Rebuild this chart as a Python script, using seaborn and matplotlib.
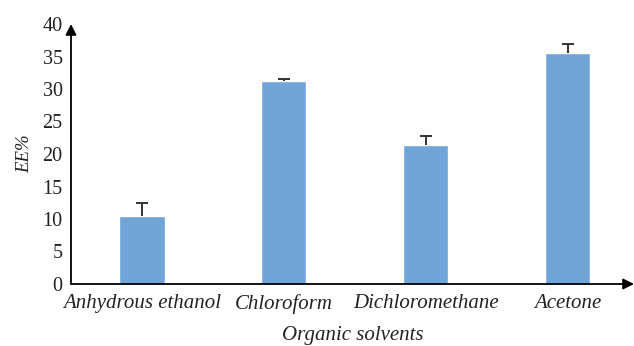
import matplotlib
matplotlib.use("Agg")
import matplotlib.pyplot as plt
import seaborn as sns
import pandas as pd

solvents = ["Anhydrous ethanol", "Chloroform", "Dichloromethane", "Acetone"]
ee_percent = [10.5, 31.2, 21.4, 35.5]
ee_error = [2.0, 0.3, 1.4, 1.5]
y_ticks = [0, 5, 10, 15, 20, 25, 30, 35, 40]

sns.set_theme(style="white")
plt.rcParams["font.family"] = ["Liberation Serif", "DejaVu Serif"]

df = pd.DataFrame({"solvent": solvents, "ee": ee_percent})
text_color = "#222222"

fig = plt.figure(figsize=(6.34, 3.46), dpi=100)
ax = fig.add_axes([71 / 634, 62 / 346, 563 / 634, 260 / 346])

sns.barplot(data=df, x="solvent", y="ee", color="#71A5D7", saturation=1,
            width=0.317, errorbar=None, ax=ax, zorder=2)

# upper-only error bars: stem from bar top plus a single cap
xpos = list(range(len(solvents)))
tops = [v + e for v, e in zip(ee_percent, ee_error)]
ax.vlines(xpos, ee_percent, tops, color="#333333", lw=1.4, zorder=3)
ax.plot(xpos, tops, ls="none", marker="_", ms=8.5, mew=1.4,
        color="#333333", zorder=3)

ax.set_xlim(-0.5, 3.465)
ax.set_ylim(0, 40)
ax.set_yticks(y_ticks)
ax.tick_params(axis="both", length=0, labelsize=14.5, colors=text_color)
ax.tick_params(axis="x", labelsize=15, pad=7.5)
ax.tick_params(axis="y", pad=6)
for lab in ax.get_xticklabels():
    lab.set_fontstyle("italic")

for s in ax.spines.values():
    s.set_visible(False)

# axis lines with arrowheads
arrow = dict(arrowstyle="-|>", color="black", lw=1.3, mutation_scale=16,
             shrinkA=0, shrinkB=0)
ax.annotate("", xy=(0, 1.0), xytext=(0, 0), xycoords="axes fraction",
            arrowprops=arrow, annotation_clip=False)
ax.annotate("", xy=(1.0, 0), xytext=(0, 0), xycoords="axes fraction",
            arrowprops=arrow, annotation_clip=False)

ax.set_xlabel("Organic solvents", fontsize=15, fontstyle="italic",
              color=text_color, labelpad=8.5)
ax.set_ylabel("EE%", fontsize=13.5, fontstyle="italic", color=text_color,
              labelpad=7)

fig.savefig("out.png", dpi=100)
